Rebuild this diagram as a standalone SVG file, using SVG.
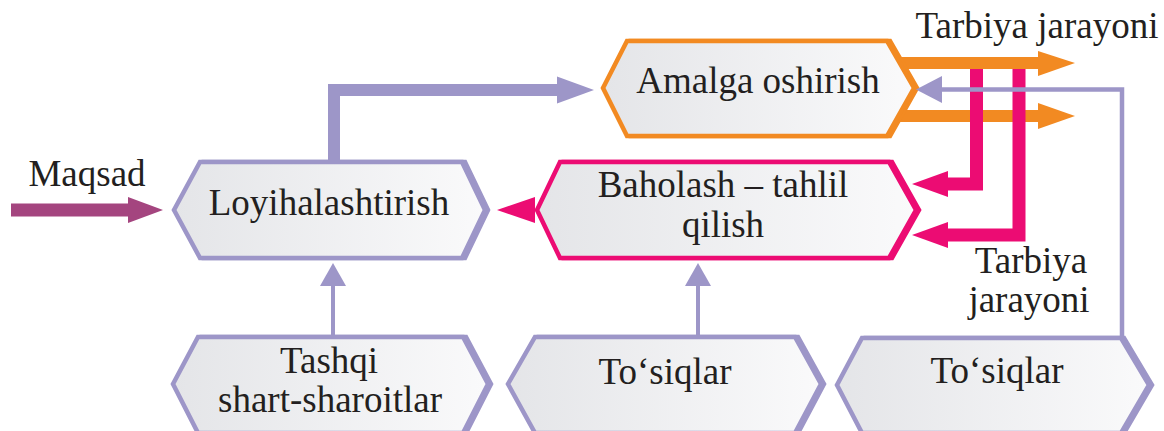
<svg xmlns="http://www.w3.org/2000/svg" width="1164" height="431" viewBox="0 0 1164 431">
<defs>
<linearGradient id="g" x1="0" y1="0" x2="1" y2="0">
<stop offset="0" stop-color="#e4e5e8"/>
<stop offset="1" stop-color="#fafafb"/>
</linearGradient>
</defs>
<style>
.t{font-family:"Liberation Serif","Times New Roman",serif;font-size:37px;fill:#231f20;text-anchor:middle}
.hx{fill:url(#g);stroke-width:4.5;stroke-linejoin:miter}
.sh{fill:none;stroke-width:4.5}
.pu{stroke:#9d96c8}
.or{stroke:#f28a22}
.mg{stroke:#ec0c73}
.ln{fill:none}
</style>
<rect width="1164" height="431" fill="#ffffff"/>
<g id="connectors-under">
<line x1="895" y1="63" x2="1040" y2="63" stroke="#f28a22" stroke-width="12"/>
<polygon points="1038,51 1075,63 1038,76" fill="#f28a22"/>
<line x1="893" y1="116" x2="1040" y2="116" stroke="#f28a22" stroke-width="12"/>
<polygon points="1038,103 1075,116 1038,129" fill="#f28a22"/>
</g>
<g id="node-amalga">
<polygon class="sh or" transform="translate(3,0)" points="627,41 887,41 914,88 887,136 627,136 603,88"/>
<polygon class="hx or" points="627,41 887,41 914,88 887,136 627,136 603,88"/>
<text class="t" x="758" y="93">Amalga oshirish</text>
</g>
<g id="node-loyiha">
<polygon class="sh pu" transform="translate(3,0)" points="200,162 462,162 485,210 462,258 200,258 174,210"/>
<polygon class="hx pu" points="200,162 462,162 485,210 462,258 200,258 174,210"/>
<text class="t" x="329" y="215">Loyihalashtirish</text>
</g>
<g id="node-baholash">
<polygon class="sh mg" transform="translate(3,0)" points="560,162 889,162 916,210 889,258 560,258 537,210"/>
<polygon class="hx mg" points="560,162 889,162 916,210 889,258 560,258 537,210"/>
<text class="t" x="723" y="197">Baholash – tahlil</text>
<text class="t" x="723" y="237">qilish</text>
</g>
<g id="node-tashqi">
<polygon class="sh pu" transform="translate(3,0)" points="198,337 463,337 488,384 463,433 198,433 173,384"/>
<polygon class="hx pu" points="198,337 463,337 488,384 463,433 198,433 173,384"/>
<text class="t" x="329" y="373">Tashqi</text>
<text class="t" x="330" y="412">shart-sharoitlar</text>
</g>
<g id="node-tosiqlar1">
<polygon class="sh pu" transform="translate(3,0)" points="535,337 795,337 821,384 795,433 535,433 508,384"/>
<polygon class="hx pu" points="535,337 795,337 821,384 795,433 535,433 508,384"/>
<text class="t" x="665" y="384">To‘siqlar</text>
</g>
<g id="node-tosiqlar2">
<polygon class="sh pu" transform="translate(3,0)" points="862,338 1121,338 1149,385 1121,433 862,433 837,385"/>
<polygon class="hx pu" points="862,338 1121,338 1149,385 1121,433 862,433 837,385"/>
<text class="t" x="997" y="383">To‘siqlar</text>
</g>
<g id="connectors">
<path class="ln mg" stroke-width="13" d="M976.5,69 V184 H946"/>
<polygon points="948,171 912,184 948,197" fill="#ec0c73"/>
<path class="ln mg" stroke-width="13" d="M1019,69 V235 H946"/>
<polygon points="948,222 912,235 948,248" fill="#ec0c73"/>
<polygon points="535,197 497,210 535,223" fill="#ec0c73"/>
<path class="ln pu" stroke-width="4.5" d="M1122,338 V89.5 H940"/>
<polygon points="942,76 916,89.5 942,103" fill="#9d96c8"/>
<path class="ln pu" stroke-width="12" d="M334,162 V90 H559"/>
<polygon points="557,76.5 594,90 557,103.5" fill="#9d96c8"/>
<line class="pu" x1="333" y1="337" x2="333" y2="284" stroke-width="4"/>
<polygon points="320,286 333,263 346,286" fill="#9d96c8"/>
<line class="pu" x1="698" y1="337" x2="698" y2="284" stroke-width="4"/>
<polygon points="685,286 698,263 711,286" fill="#9d96c8"/>
<line x1="11" y1="210" x2="130" y2="210" stroke="#a4457f" stroke-width="13"/>
<polygon points="128,197 163,210 128,223" fill="#a4457f"/>
</g>
<g id="labels">
<text class="t" x="1037" y="38">Tarbiya jarayoni</text>
<text class="t" x="1031" y="273">Tarbiya</text>
<text class="t" x="1029" y="312">jarayoni</text>
<text class="t" x="87" y="186">Maqsad</text>
</g>
</svg>
